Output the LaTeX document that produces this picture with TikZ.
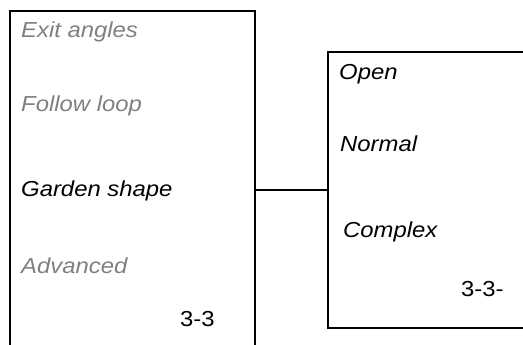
\documentclass[tikz,border=0pt]{standalone}
\usepackage{fontspec}
\setmainfont{Liberation Sans}[FakeStretch=1.1]
\usetikzlibrary{calc}

\begin{document}
\begin{tikzpicture}[x=1pt,y=-1pt]
\useasboundingbox (0,0) rectangle (523,345);
\tikzset{lbl/.style={anchor=base west,inner sep=0pt,font=\fontsize{21.7}{25}\selectfont\itshape},
  off/.style={lbl,text=gray}}
\coordinate[] (A) at (10,345);
\coordinate[] (B) at (10,11);
\coordinate[] (C) at (255,11);
\coordinate[] (D) at (255,345);
\coordinate[] (E) at (523,52);
\coordinate[] (F) at (328,52);
\coordinate[] (G) at (328,328);
\coordinate[] (H) at (523,328);
\coordinate[] (L) at (255,190);
\coordinate[] (R) at (328,190);

\draw [line width=2.4pt] (A) -- (B) -- (C) -- (D);
\draw [line width=2.4pt] (E) -- (F) -- (G) -- (H);
\draw [line width=2pt] (L) -- (R);
\draw[off] (21,38) node (exit) {Exit angles};
\draw[off] (21,111.5) node (follow) {Follow loop};
\draw[lbl] (21,196.5) node (garden) {Garden shape};
\draw[off] (21,273) node (adv) {Advanced};
\draw[lbl,font=\fontsize{21.7}{25}\selectfont] (180,326.5) node (numL) {3-3};
\draw[lbl] (339,79.5) node (open) {Open};
\draw[lbl] (340,151.5) node (normal) {Normal};
\draw[lbl] (343,237.5) node (complex) {Complex};
\draw[lbl,font=\fontsize{21.7}{25}\selectfont] (461,296.5) node (numR) {3-3-};
\end{tikzpicture}
\end{document}
